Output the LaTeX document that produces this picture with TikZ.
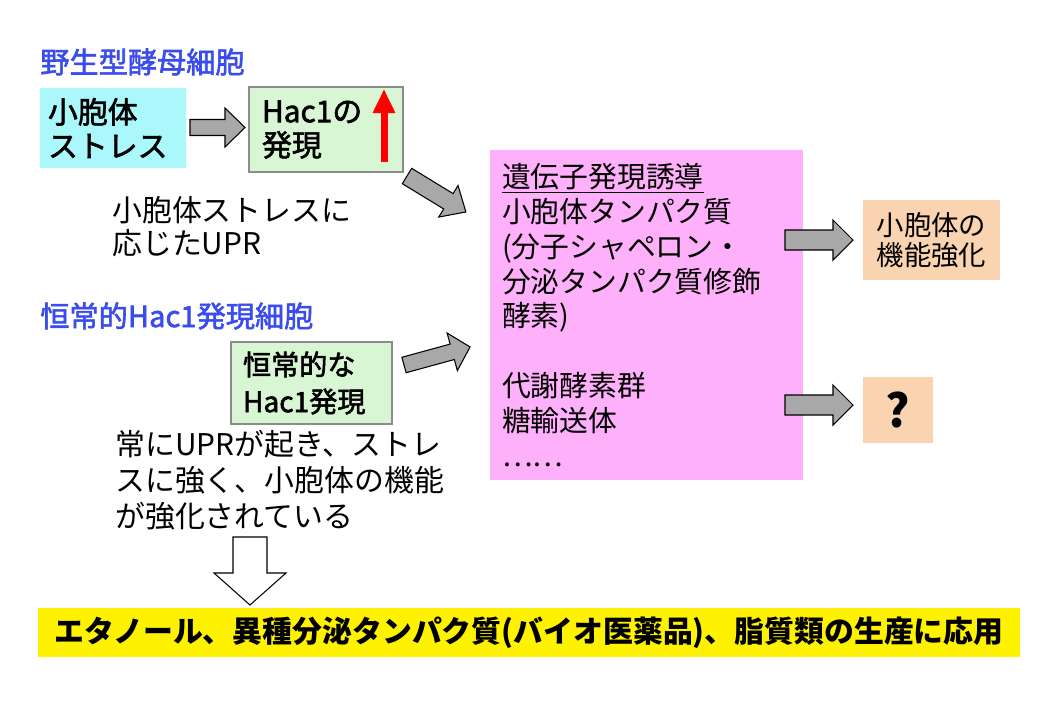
\documentclass[tikz,border=0pt]{standalone}
\usepackage{fontspec}
\setmainfont{Noto Sans CJK JP}
\newfontfamily\boxfont{Noto Sans CJK JP}[FakeBold=2]
\usetikzlibrary{arrows.meta}

\definecolor{cyanfill}{RGB}{170,248,252}
\definecolor{greenfill}{RGB}{216,246,212}
\definecolor{pinkfill}{RGB}{255,176,250}
\definecolor{orangefill}{RGB}{250,212,176}
\definecolor{titleblue}{RGB}{58,76,235}
\definecolor{arrowgray}{RGB}{168,168,168}

\tikzset{
	titletext/.style={inner sep=0pt, text=titleblue, font=\boxfont\fontsize{16.6}{19}\selectfont},
	plaintext/.style={inner sep=0pt, align=left, font=\fontsize{17}{18.7}\selectfont},
	cyanbox/.style={fill=cyanfill, inner xsep=0.16cm, inner ysep=0pt, align=left, font=\boxfont\fontsize{17}{19.3}\selectfont},
	greenbox/.style={fill=greenfill, draw=black!45, line width=0.6pt, inner ysep=0pt, align=left, font=\boxfont\fontsize{17}{19.3}\selectfont},
	pinkbox/.style={fill=pinkfill, inner xsep=0.24cm, inner ysep=0pt, align=left, font=\fontsize{16.4}{19.8}\selectfont},
	orangebox/.style={fill=orangefill, inner sep=0pt, align=center, font=\fontsize{15.6}{17}\selectfont},
	yellowbar/.style={fill=yellow, inner sep=0pt, align=center, font=\bfseries\fontsize{17}{20}\selectfont},
	redup/.style={red, line width=0.14cm, -{Triangle[width=0.42cm,length=0.48cm]}},
	% block arrow: length, shaft half width, head half width, head length, fill
	pics/fatarrow/.style n args={5}{code={
		\draw[fill=#5, draw=black, line width=0.6pt] (0,-#2) -- ({#1-#4},-#2) -- ({#1-#4},-#3) -- (#1,0)
			-- ({#1-#4},#3) -- ({#1-#4},#2) -- (0,#2) -- cycle;
	}}
}

\begin{document}
\begin{tikzpicture}
	\useasboundingbox (0,0) rectangle (21,-14.08);

	% wild type
	\node[titletext, anchor=west] (wildtitle) at (0.8,-1.24) {野生型酵母細胞};
	\node[cyanbox, minimum width=2.92cm, minimum height=1.6cm, text width=2.6cm] (stress) at (2.26,-2.56) {小胞体\\ストレス};
	\pic at (3.8,-2.55) {fatarrow={1.1}{0.16}{0.39}{0.4}{arrowgray}};
	\node[greenbox, inner xsep=0.26cm, minimum width=3.08cm, minimum height=1.7cm, text width=2.56cm] (hacup) at (6.52,-2.59) {Hac1の\\発現};
	\coordinate (upbot) at (7.68,-3.24);
	\coordinate (uptop) at (7.68,-1.78);
	\draw[redup] (upbot) -- (uptop);
	\node[plaintext, anchor=west] (upr) at (2.24,-4.53) {小胞体ストレスに\\応じたUPR};
	\pic[rotate=-31.4] at (8.14,-3.52) {fatarrow={1.38}{0.18}{0.37}{0.41}{arrowgray}};

	% constitutive
	\node[titletext, anchor=west] (consttitle) at (0.8,-6.32) {恒常的Hac1発現細胞};
	\node[greenbox, inner xsep=0.24cm, minimum width=3.22cm, minimum height=1.64cm, text width=2.74cm, font=\boxfont\fontsize{16}{21}\selectfont] (hacconst) at (6.23,-7.66) {恒常的な\\Hac1発現};
	\pic[rotate=15.3] at (8.08,-7.3) {fatarrow={1.37}{0.16}{0.39}{0.37}{arrowgray}};
	\node[plaintext, anchor=west, font=\fontsize{17}{20.4}\selectfont] (uprconst) at (2.3,-9.6) {常にUPRが起き、ストレ\\スに強く、小胞体の機能\\が強化されている};

	% induced genes
	\node[pinkbox, minimum width=6.26cm, minimum height=6.6cm, text width=5.78cm] (induce) at (12.93,-6.3)
		{\underline{遺伝子発現誘導}\\小胞体タンパク質\\(分子シャペロン・\\分泌タンパク質修飾\\酵素)\\[0.7cm]代謝酵素群\\糖輸送体\\……};
	\pic at (15.7,-4.8) {fatarrow={1.36}{0.2}{0.4}{0.4}{arrowgray}};
	\pic at (15.7,-8.1) {fatarrow={1.36}{0.2}{0.4}{0.4}{arrowgray}};
	\node[orangebox, minimum width=2.74cm, minimum height=1.6cm] (enhance) at (18.63,-4.8) {小胞体の\\機能強化};
	\node[orangebox, minimum width=1.4cm, minimum height=1.32cm, font=\bfseries\fontsize{26}{28}\selectfont] (unknown) at (17.96,-8.2) {?};

	% application
	\pic[rotate=-90] at (5.0,-10.74) {fatarrow={1.36}{0.34}{0.72}{0.64}{white}};
	\node[yellowbar, minimum width=19.64cm, minimum height=0.98cm] (apply) at (10.58,-12.65) {エタノール、異種分泌タンパク質(バイオ医薬品)、脂質類の生産に応用};
\end{tikzpicture}
\end{document}
